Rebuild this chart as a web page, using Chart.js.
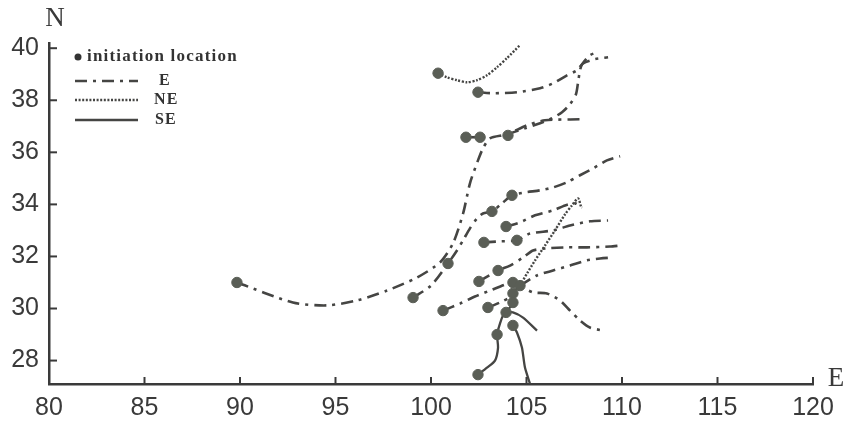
<!DOCTYPE html>
<html lang="en">
<head>
    <meta charset="UTF-8">
    <title>Track initiation locations</title>
    <script src="https://cdn.jsdelivr.net/npm/chart.js"></script>
    <style>
        body { margin: 0; background: #ffffff; }
        #chartContainer { width: 850px; height: 423px; }
    </style>
</head>
<body>
    <div id="chartContainer">
        <canvas id="myChart" width="850" height="423"></canvas>
    </div>

    <script>
        // axis ticks
        const xTicks = [80, 85, 90, 95, 100, 105, 110, 115, 120];
        const yTicks = [28, 30, 32, 34, 36, 38, 40];

        // initiation locations [lon, lat]
        const initiation = [
            [89.84, 31.0], [100.37, 39.04], [102.46, 38.31], [101.83, 36.58], [102.57, 36.58],
            [104.03, 36.65], [104.24, 34.35], [103.19, 33.73], [103.93, 33.15], [102.77, 32.54],
            [104.50, 32.62], [100.89, 31.73], [103.51, 31.46], [102.51, 31.04], [99.06, 30.42],
            [100.63, 29.92], [102.98, 30.04], [104.29, 31.0], [104.66, 30.88], [104.29, 30.58],
            [104.29, 30.23], [103.93, 29.85], [104.29, 29.35], [103.46, 29.0], [102.46, 27.46]
        ];

        // E tracks
        const trackE1 = [[89.84, 31.0], [92.77, 30.23], [94.55, 30.12], [96.13, 30.31], [97.70, 30.69],
            [99.27, 31.19], [100.47, 31.77], [101.15, 32.5], [101.68, 33.65], [102.04, 34.81],
            [102.46, 35.69], [102.72, 36.15], [103.09, 36.54], [103.98, 36.69], [105.03, 37.04],
            [105.97, 37.23], [107.80, 37.27]];
        const trackE2 = [[99.06, 30.42], [100.0, 30.88], [100.89, 31.73], [101.36, 32.23], [101.68, 32.62],
            [102.04, 33.08], [102.41, 33.46], [102.72, 33.65], [103.19, 33.73], [103.72, 34.04],
            [104.24, 34.35], [104.92, 34.46], [105.71, 34.54], [106.39, 34.65], [107.12, 34.85],
            [107.80, 35.12], [108.48, 35.38], [109.21, 35.69], [109.90, 35.85]];
        const trackE3 = [[103.93, 33.15], [104.66, 33.31], [105.45, 33.58], [106.39, 33.77],
            [107.02, 33.96], [107.54, 34.04], [107.91, 33.88]];
        const trackE4 = [[102.77, 32.54], [103.61, 32.58], [104.50, 32.62], [105.18, 32.88],
            [106.39, 33.0], [107.28, 33.19], [108.32, 33.35], [109.27, 33.38]];
        const trackE5 = [[102.51, 31.04], [103.51, 31.46], [104.14, 31.65], [104.82, 31.96],
            [105.34, 32.23], [106.07, 32.31], [107.12, 32.35], [108.17, 32.35], [109.37, 32.38], [109.90, 32.42]];
        const trackE6 = [[104.66, 30.88], [105.55, 31.27], [106.39, 31.46], [107.28, 31.65],
            [108.17, 31.85], [108.85, 31.92], [109.53, 31.96]];
        const trackE7 = [[104.29, 31.0], [105.34, 30.62], [106.07, 30.58], [106.75, 30.31],
            [107.28, 29.92], [107.80, 29.54], [108.32, 29.27], [109.01, 29.15]];
        const trackE8 = [[100.63, 29.92], [101.52, 30.19], [102.30, 30.46], [103.09, 30.69],
            [103.87, 30.92], [104.29, 31.0]];
        const trackE9 = [[102.98, 30.04], [103.61, 30.23], [104.24, 30.46]];
        const trackE10 = [[103.98, 36.69], [104.92, 36.92], [105.71, 37.12], [106.34, 37.31],
            [106.86, 37.54], [107.28, 37.85], [107.59, 38.23], [107.70, 38.69], [107.80, 39.15],
            [107.91, 39.38], [108.32, 39.73], [108.74, 39.85]];
        const trackE11 = [[102.46, 38.31], [103.25, 38.27], [104.50, 38.31], [105.71, 38.46],
            [106.39, 38.65], [107.12, 38.96], [107.64, 39.15], [107.96, 39.42], [108.59, 39.58], [109.27, 39.65]];
        const trackE12 = [[101.83, 36.58], [102.57, 36.58]];

        // NE tracks
        const trackNE1 = [[100.37, 39.04], [100.84, 38.88], [101.36, 38.77], [101.88, 38.69],
            [102.41, 38.77], [102.93, 38.96], [103.46, 39.27], [103.98, 39.62], [104.66, 40.12]];
        const trackNE2 = [[104.66, 30.88], [105.03, 31.35], [105.45, 31.85], [105.97, 32.42],
            [106.49, 33.0], [107.02, 33.62], [107.38, 33.96], [107.70, 34.23], [107.85, 33.92]];

        // SE tracks
        const trackSE1 = [[102.46, 27.46], [102.93, 27.73], [103.35, 28.0], [103.51, 28.5],
            [103.46, 29.0], [103.61, 29.42], [103.77, 29.73], [103.93, 29.85], [104.29, 29.85],
            [104.82, 29.65], [105.55, 29.15]];
        const trackSE2 = [[104.29, 29.35], [104.50, 29.08], [104.76, 28.5], [104.92, 27.73], [105.18, 27.12]];
        const trackSE3 = [[104.66, 30.88], [104.29, 30.58], [104.29, 30.23], [103.93, 29.85]];

        const axisColor = '#3a3a3a';
        const lineColor = '#454543';
        const dotColor = '#5a5e56';
        const dashE = [12, 6, 3, 6];
        const dashNE = [2, 1.6];

        function toPoints(arr) {
            return arr.map(p => ({ x: p[0], y: p[1] }));
        }

        function track(arr, dash, width) {
            return {
                type: 'line',
                data: toPoints(arr),
                borderColor: lineColor,
                borderWidth: width,
                borderDash: dash,
                borderCapStyle: 'butt',
                pointRadius: 0,
                tension: 0.25,
                fill: false
            };
        }

        const datasets = [{
            type: 'scatter',
            label: 'initiation location',
            data: toPoints(initiation),
            backgroundColor: dotColor,
            borderColor: dotColor,
            pointRadius: 5.2,
            pointHoverRadius: 5.2
        }];
        [trackE1, trackE2, trackE3, trackE4, trackE5, trackE6, trackE7, trackE8,
            trackE9, trackE10, trackE11, trackE12].forEach(t => datasets.push(track(t, dashE, 2.6)));
        [trackNE1, trackNE2].forEach(t => datasets.push(track(t, dashNE, 2.4)));
        [trackSE1, trackSE2, trackSE3].forEach(t => datasets.push(track(t, [], 2.3)));

        // inner ticks, axis letters and legend
        const decor = {
            id: 'decor',
            afterDraw(chart) {
                const ctx = chart.ctx;
                const xs = chart.scales.x, ys = chart.scales.y;
                const a = chart.chartArea;
                ctx.save();
                ctx.strokeStyle = axisColor;
                ctx.lineWidth = 2;
                xTicks.forEach(v => {
                    if (v === xTicks[0]) return;
                    const px = xs.getPixelForValue(v);
                    ctx.beginPath(); ctx.moveTo(px, a.bottom); ctx.lineTo(px, a.bottom - 7); ctx.stroke();
                });
                yTicks.forEach(v => {
                    const py = ys.getPixelForValue(v);
                    ctx.beginPath(); ctx.moveTo(a.left, py); ctx.lineTo(a.left + 8, py); ctx.stroke();
                });

                // axis letters
                ctx.fillStyle = axisColor;
                ctx.font = '27px "Liberation Serif"';
                ctx.textAlign = 'center';
                ctx.textBaseline = 'middle';
                ctx.fillText('N', 55, 19);
                ctx.fillText('E', 836, 379);

                // legend
                ctx.fillStyle = '#333';
                ctx.beginPath(); ctx.arc(78, 57, 3.5, 0, Math.PI * 2); ctx.fill();
                ctx.textAlign = 'left';
                ctx.font = 'bold 17px "Liberation Serif"';
                if ('letterSpacing' in ctx) ctx.letterSpacing = '1.2px';
                ctx.fillText('initiation location', 87, 57);
                ctx.font = 'bold 16px "Liberation Serif"';
                ctx.fillText('E', 159, 81);
                ctx.fillText('NE', 154, 100);
                ctx.fillText('SE', 155, 120);

                ctx.strokeStyle = lineColor;
                ctx.lineCap = 'butt';
                ctx.lineWidth = 2.6; ctx.setLineDash(dashE);
                ctx.beginPath(); ctx.moveTo(75, 81); ctx.lineTo(138, 81); ctx.stroke();
                ctx.lineWidth = 2.4; ctx.setLineDash(dashNE);
                ctx.beginPath(); ctx.moveTo(75, 100); ctx.lineTo(138, 100); ctx.stroke();
                ctx.lineWidth = 2.6; ctx.setLineDash([]);
                ctx.beginPath(); ctx.moveTo(75, 120); ctx.lineTo(138, 120); ctx.stroke();
                ctx.restore();
            }
        };

        const ctx = document.getElementById('myChart').getContext('2d');
        const myChart = new Chart(ctx, {
            type: 'scatter',
            data: { datasets: datasets },
            plugins: [decor],
            options: {
                responsive: false,
                animation: false,
                layout: { padding: { top: 43, right: 37, left: 0, bottom: 0 } },
                plugins: { legend: { display: false }, tooltip: { enabled: false } },
                scales: {
                    x: {
                        type: 'linear',
                        min: 80,
                        max: 120,
                        afterFit: s => { s.height = 39; },
                        afterBuildTicks: s => { s.ticks = xTicks.map(v => ({ value: v })); },
                        grid: { display: true, drawOnChartArea: false, drawTicks: false },
                        border: { display: true, color: axisColor, width: 2.5 },
                        ticks: { color: axisColor, padding: 9, maxRotation: 0, autoSkip: false,
                            font: { family: 'Liberation Sans', size: 25 } }
                    },
                    y: {
                        type: 'linear',
                        min: 27.1,
                        max: 40.2,
                        afterFit: s => { s.width = 49; },
                        afterBuildTicks: s => { s.ticks = yTicks.map(v => ({ value: v })); },
                        grid: { display: true, drawOnChartArea: false, drawTicks: false },
                        border: { display: true, color: axisColor, width: 2.5 },
                        ticks: { color: axisColor, padding: 10, autoSkip: false,
                            font: { family: 'Liberation Sans', size: 25 } }
                    }
                }
            }
        });
    </script>
</body>
</html>
